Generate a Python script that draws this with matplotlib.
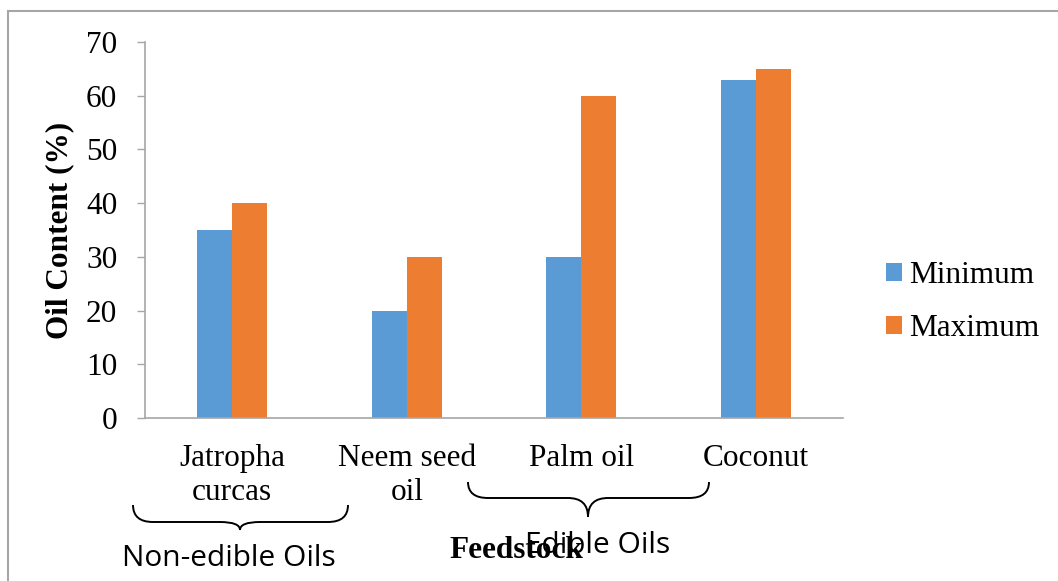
import matplotlib.pyplot as plt
import numpy as np
from matplotlib.path import Path
from matplotlib.patches import PathPatch
from matplotlib.lines import Line2D

# oil content ranges (%)
feedstocks = ["Jatropha\ncurcas", "Neem seed\noil", "Palm oil", "Coconut"]
minimum = [35, 20, 30, 63]
maximum = [40, 30, 60, 65]
series_names = ["Minimum", "Maximum"]
colors = ["#5B9BD5", "#ED7D31"]
y_ticks = [0, 10, 20, 30, 40, 50, 60, 70]

W, H = 1058, 581
serif = "Liberation Serif"
grey = "#a6a6a6"


def fx(px):
    return px / W


def fy(py):
    return 1 - py / H


def draw_brace(fig, x0, x1, xc, y_top, y_mid, y_tip, r=20):
    # curly brace opening upwards, pixel coords from top-left
    pts = [(x0, y_top), (x0, y_mid), (x0 + r, y_mid),
           (xc - r, y_mid),
           (xc, y_mid), (xc, y_tip),
           (xc, y_mid), (xc + r, y_mid),
           (x1 - r, y_mid),
           (x1, y_mid), (x1, y_top)]
    codes = [Path.MOVETO, Path.CURVE3, Path.CURVE3,
             Path.LINETO,
             Path.CURVE3, Path.CURVE3,
             Path.CURVE3, Path.CURVE3,
             Path.LINETO,
             Path.CURVE3, Path.CURVE3]
    verts = [(fx(a), fy(b)) for a, b in pts]
    patch = PathPatch(Path(verts, codes), fill=False, lw=1.4, color="black",
                      transform=fig.transFigure)
    fig.add_artist(patch)


fig = plt.figure(figsize=(W / 100, H / 100), dpi=100)
ax = fig.add_axes([fx(145), fy(418), fx(843) - fx(145), fy(42) - fy(418)])

x = np.arange(len(feedstocks))
w = 0.2
ax.bar(x - w / 2, minimum, w, color=colors[0], label=series_names[0], lw=0)
ax.bar(x + w / 2, maximum, w, color=colors[1], label=series_names[1], lw=0)

ax.set_xlim(-0.5, len(feedstocks) - 0.5)
ax.set_ylim(0, 70)
ax.set_yticks(y_ticks)
ax.set_xticks(x)
ax.set_xticklabels(feedstocks, fontfamily=serif, fontsize=22.5, linespacing=1.2)
for lab in ax.get_yticklabels():
    lab.set_fontfamily(serif)
    lab.set_fontsize(22.5)
ax.tick_params(axis="x", length=0, pad=19)
ax.tick_params(axis="y", length=6, width=1, color=grey, pad=14)
for s in ["top", "right"]:
    ax.spines[s].set_visible(False)
for s in ["left", "bottom"]:
    ax.spines[s].set_color(grey)
    ax.spines[s].set_linewidth(1.2)

fig.text(fx(60), fy(230), "Oil Content (%)", rotation=90, ha="center",
         va="center", fontfamily=serif, fontweight="bold", fontsize=22.5)

leg = ax.legend(loc="center left", bbox_to_anchor=(fx(886), fy(302)),
                bbox_transform=fig.transFigure, frameon=False,
                prop={"family": serif, "size": 22.5},
                handlelength=0.5, handleheight=0.5, handletextpad=0.25,
                labelspacing=0.78, borderpad=0, borderaxespad=0)

# group braces and labels
draw_brace(fig, 133, 348, 240, 505, 522, 530)
draw_brace(fig, 468, 709, 588, 482, 498, 517)
fig.text(fx(229), fy(566), "Non-edible Oils", ha="center", va="baseline",
         fontfamily="Open Sans", fontsize=21.5)
fig.text(fx(516), fy(558), "Feedstock", ha="center", va="baseline",
         fontfamily=serif, fontweight="bold", fontsize=22.5)
fig.text(fx(598), fy(553), "Edible Oils", ha="center", va="baseline",
         fontfamily="Open Sans", fontsize=21.5)

# chart area border (left and top edges visible)
fig.add_artist(Line2D([fx(8), fx(8)], [0, fy(11)], color=grey, lw=1.5))
fig.add_artist(Line2D([fx(8), 1], [fy(11), fy(11)], color=grey, lw=1.5))

fig.savefig("out.png", dpi=100)
